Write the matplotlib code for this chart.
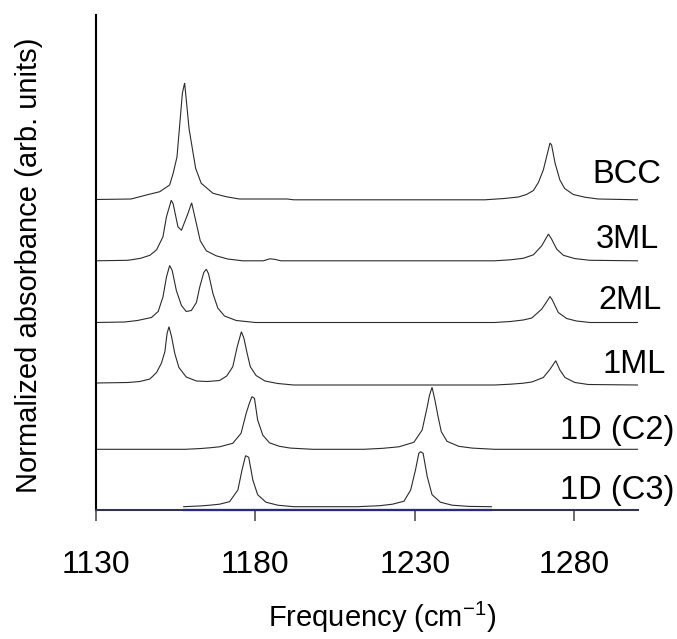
import matplotlib
matplotlib.use("Agg")
import matplotlib.pyplot as plt

plt.rcParams['font.family'] = ['Liberation Sans', 'DejaVu Sans']
plt.rcParams['mathtext.default'] = 'regular'

# ---- data (heights above each trace's own baseline, arb. units) ----
names = ["BCC", "3ML", "2ML", "1ML", "1D (C2)", "1D (C3)"]
offsets = [311, 249.2, 187.5, 125, 60.7, 3.3]

bcc_x = [1130, 1141, 1145.8, 1150, 1153.1, 1154.2, 1155.4, 1157.1, 1157.8, 1159.2, 1161.25,
         1163, 1166.7, 1170.8, 1175, 1185, 1190, 1192, 1252, 1258, 1262.5, 1265, 1267.2,
         1268.75, 1270.3, 1272.4, 1272.9, 1274, 1275.5, 1277, 1279.7, 1283.3, 1287.5, 1300]
bcc_y = [-0.5, 0, 4, 7.3, 14, 25.7, 42, 106, 116, 70, 30.7,
         15.7, 5.7, 2.3, 0, 0, 0, -0.8, -0.8, 0.5, 2, 4.5, 8.5,
         16.5, 29, 56, 54, 35.7, 19, 10.5, 4.5, 1.8, 0, -0.8]

ml3_x = [1130, 1140, 1144, 1146.9, 1149, 1151, 1152.1, 1153.6, 1154.2, 1155.7, 1156.8,
         1158.8, 1160, 1161.5, 1162.7, 1164.6, 1167.7, 1171.3, 1176, 1182.5, 1184.5, 1186,
         1188, 1255, 1260, 1264, 1267.2, 1269.8, 1271.9, 1272.9, 1274.5, 1276.6, 1280.2,
         1284.9, 1300]
ml3_y = [0, 0.5, 2.5, 5.5, 11, 24, 44, 60.5, 57, 34, 30.5,
         47, 58, 37, 20, 10, 5, 1.8, 0, 0, 2, 1.5,
         0, 0, 1, 2.5, 6, 15, 26.7, 21.7, 11.7, 5.5, 2.2,
         0.5, 0]

ml2_x = [1130, 1139, 1143, 1147.4, 1149.5, 1151, 1152.1, 1153.1, 1153.9, 1155.2, 1156.8,
         1158.3, 1159.9, 1161.5, 1162.5, 1163.8, 1164.6, 1165.3, 1166.7, 1168.2, 1170.3,
         1174, 1180, 1255, 1260, 1264, 1266.7, 1269.8, 1271.4, 1272.4, 1273.1, 1275,
         1277.6, 1280.7, 1285, 1300]
ml2_y = [0, 0.5, 2, 5, 11, 25.5, 45.5, 57, 52, 32, 17,
         11, 12, 20, 35, 50, 53.3, 48.7, 28.7, 14.5, 6.5,
         2, 0, 0, 1, 2.5, 4.5, 13.4, 21, 26, 22.7, 10,
         4, 1.5, 0, 0]

ml1_x = [1130, 1140, 1143.75, 1146.9, 1149, 1150.5, 1151.6, 1152.3, 1152.9, 1153.7, 1154.7,
         1156, 1158.3, 1161.5, 1165, 1168.75, 1171, 1172.9, 1174.3, 1175.6, 1176.4, 1177.4,
         1178.4, 1180.2, 1183, 1187, 1192, 1255, 1260, 1264, 1266.7, 1270.3, 1272.4,
         1274.2, 1275.5, 1277.1, 1280.2, 1284.4, 1300]
ml1_y = [2, 2.5, 3.5, 6, 12.5, 21.7, 33.3, 51.7, 58.3, 48.3, 31.7,
         17.5, 8, 4, 3.5, 4.5, 9, 18.3, 38.3, 53.3, 46.7, 31.7,
         18.3, 9.5, 4, 1.5, 0, 0, 0.8, 1.8, 3, 7.5, 15.7,
         24.3, 15, 7.5, 2.5, 0.5, 0]

c2_x = [1130, 1158, 1163, 1166, 1168.75, 1172.9, 1175.5, 1177.1, 1178.1, 1178.9, 1179.7,
        1180.7, 1182.3, 1184.4, 1187.5, 1191, 1198, 1214, 1220, 1225, 1229.7, 1232.3,
        1233.9, 1234.6, 1235.4, 1236.3, 1237.3, 1238.3, 1240.1, 1243.75, 1248, 1255, 1300]
c2_y = [0, 0, 0.8, 1.6, 2.5, 6, 16, 36, 46, 52.6, 51,
        29.3, 14.3, 6.5, 3, 1.2, 0, 0, 1, 2.5, 7, 19.3,
        42.6, 54, 62, 49.3, 32.6, 17.6, 8, 3, 1.2, 0, 0]

c3_x = [1157.5, 1163, 1166, 1168.75, 1171.9, 1174.5, 1175.8, 1176.9, 1177.9, 1179.2,
        1180.7, 1183.3, 1187, 1192, 1212, 1219, 1223, 1226.6, 1228.7, 1230.2, 1231.25,
        1231.8, 1232.6, 1233.9, 1235.4, 1238, 1241.7, 1247, 1254]
c3_y = [0, 0.8, 1.6, 2.5, 5, 16.7, 36.7, 51, 49.4, 26.7,
        12, 4.5, 1.5, 0, 0, 1, 2.5, 5.5, 16.7, 36.7, 53.4,
        55, 53.4, 30, 12, 4.5, 1.5, 0.3, 0]

xs = [bcc_x, ml3_x, ml2_x, ml1_x, c2_x, c3_x]
ys = [bcc_y, ml3_y, ml2_y, ml1_y, c2_y, c3_y]

xticks = [1130, 1180, 1230, 1280]

# label anchor positions (data coords)
label_x = [1285.6, 1286.6, 1287.5, 1288.75, 1275.6, 1275.6]
label_y = [326.7, 262, 200.7, 137, 70.5, 10.5]

# ---- figure ----
W, H = 677, 639
fig = plt.figure(figsize=(W / 100, H / 100), dpi=100)
ax = fig.add_axes([96 / W, (H - 510) / H, (638 - 96) / W, (510 - 15) / H])

for x, y, off in zip(xs, ys, offsets):
    ax.plot(x, [v + off for v in y], color='#2b2b2b', lw=0.8, solid_joinstyle='miter')

# zero line of the lowest trace drawn over the axis
ax.plot([c3_x[0], c3_x[-1]], [0, 0], color='#2a2a78', lw=1.6, zorder=4, clip_on=False)

for name, lx, ly in zip(names, label_x, label_y):
    ax.text(lx, ly, name, fontsize=23.5, ha='left', va='baseline', color='black',
            clip_on=False)

ax.set_xlim(1130, 1300)
ax.set_ylim(0, 495)
ax.set_xticks(xticks)
ax.set_xticklabels([str(t) for t in xticks])
ax.set_yticks([])
ax.tick_params(axis='x', direction='out', length=8, width=1.1, color='#444444',
               pad=21, labelsize=23)
for s in ['top', 'right']:
    ax.spines[s].set_visible(False)
ax.spines['left'].set_color('black')
ax.spines['left'].set_linewidth(1.5)
ax.spines['bottom'].set_color('#33334a')
ax.spines['bottom'].set_linewidth(1.5)

fig.text(382 / W, 1 - 617 / H, 'Frequency (cm$^{-1}$)', fontsize=21,
         ha='center', va='center')
fig.text(29 / W, 1 - 265 / H, 'Normalized absorbance (arb. units)', fontsize=21,
         rotation=90, ha='center', va='center')

fig.savefig('out.png', dpi=100)
